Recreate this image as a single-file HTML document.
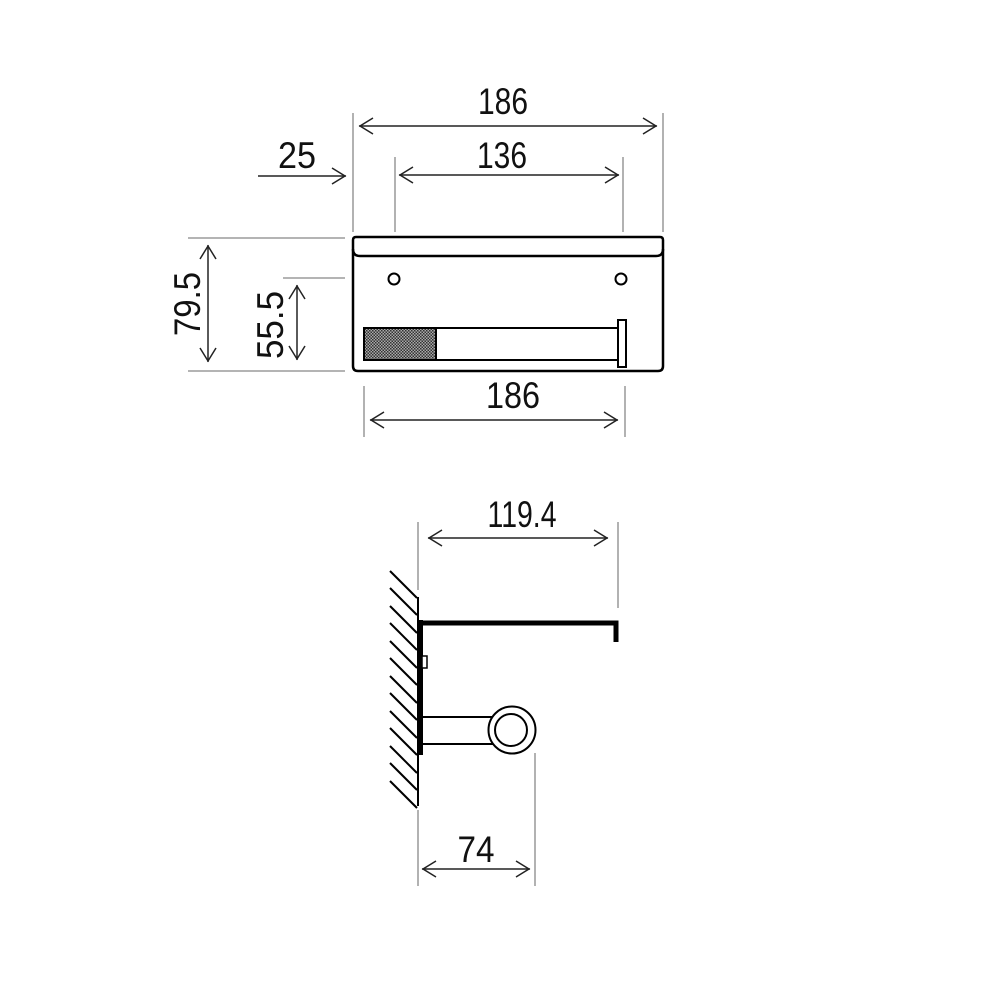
<!DOCTYPE html>
<html><head><meta charset="utf-8"><style>html,body{margin:0;padding:0;background:#fff}svg{display:block}text{font-family:"Liberation Sans",sans-serif;font-size:37px;fill:#111}</style></head>
<body>
<svg width="1000" height="1000" viewBox="0 0 1000 1000" xmlns="http://www.w3.org/2000/svg">
<defs>
<pattern id="chk" width="3" height="3" patternUnits="userSpaceOnUse"><rect width="3" height="3" fill="#aaa"/><rect width="1.5" height="1.5" fill="#333"/><rect x="1.5" y="1.5" width="1.5" height="1.5" fill="#333"/></pattern>
</defs>
<g stroke="#888" stroke-width="1.3" fill="none">
<!-- extension lines -->
<line x1="353" y1="113" x2="353" y2="232"/>
<line x1="663" y1="113" x2="663" y2="232"/>
<line x1="395" y1="157" x2="395" y2="232"/>
<line x1="623" y1="157" x2="623" y2="232"/>
<line x1="188" y1="238" x2="345" y2="238"/>
<line x1="188" y1="371" x2="345" y2="371"/>
<line x1="283" y1="278" x2="345" y2="278"/>
<line x1="364" y1="386" x2="364" y2="437"/>
<line x1="625" y1="386" x2="625" y2="437"/>
<line x1="418" y1="522" x2="418" y2="590"/>
<line x1="618" y1="522" x2="618" y2="608"/>
<line x1="418" y1="810" x2="418" y2="886"/>
<line x1="535" y1="753" x2="535" y2="886"/>
</g>
<g stroke="#222" stroke-width="1.5" fill="none">
<!-- dims -->
<line x1="359" y1="126" x2="657" y2="126"/>
<polyline points="373,118 360,126 373,134"/><polyline points="643,118 656,126 643,134"/>
<line x1="399" y1="175" x2="619" y2="175"/>
<polyline points="413,167 400,175 413,183"/><polyline points="605,167 618,175 605,183"/>
<line x1="258" y1="176" x2="346" y2="176"/>
<polyline points="332,168 345,176 332,184"/>
<line x1="208" y1="245" x2="208" y2="362"/>
<polyline points="200,259 208,246 216,259"/><polyline points="200,348 208,361 216,348"/>
<line x1="297" y1="285" x2="297" y2="360"/>
<polyline points="289,299 297,286 305,299"/><polyline points="289,346 297,359 305,346"/>
<line x1="370" y1="420" x2="618" y2="420"/>
<polyline points="384,412 371,420 384,428"/><polyline points="604,412 617,420 604,428"/>
<line x1="428" y1="538" x2="608" y2="538"/>
<polyline points="442,530 429,538 442,546"/><polyline points="594,530 607,538 594,546"/>
<line x1="422" y1="869" x2="530" y2="869"/>
<polyline points="436,861 423,869 436,877"/><polyline points="516,861 529,869 516,877"/>
</g>
<!-- top view -->
<g stroke="#000" stroke-width="2.5" fill="#fff">
<path d="M353,240 Q353,237 356,237 L660,237 Q663,237 663,240 L663,366 Q663,371 658,371 L358,371 Q353,371 353,366 Z"/>
<path d="M353,249 Q353,256 360,256 L656,256 Q663,256 663,249" fill="none"/>
<circle cx="394" cy="279" r="5.5" stroke-width="2"/>
<circle cx="621" cy="279" r="5.5" stroke-width="2"/>
<rect x="364" y="328" width="254" height="32" stroke-width="2"/>
<rect x="364" y="328" width="72" height="32" fill="url(#chk)" stroke-width="2"/>
<rect x="618" y="320" width="8" height="47" stroke-width="2"/>
</g>
<!-- side view -->
<g stroke="#000" fill="none">
<line x1="418" y1="597" x2="418" y2="806" stroke-width="2"/>
<g stroke-width="2">
<line x1="390" y1="571" x2="417" y2="598"/>
<line x1="390" y1="588" x2="417" y2="615"/>
<line x1="390" y1="606" x2="417" y2="633"/>
<line x1="390" y1="623" x2="417" y2="650"/>
<line x1="390" y1="641" x2="417" y2="668"/>
<line x1="390" y1="658" x2="417" y2="685"/>
<line x1="390" y1="676" x2="417" y2="703"/>
<line x1="390" y1="693" x2="417" y2="720"/>
<line x1="390" y1="711" x2="417" y2="738"/>
<line x1="390" y1="728" x2="417" y2="755"/>
<line x1="390" y1="746" x2="417" y2="773"/>
<line x1="390" y1="763" x2="417" y2="790"/>
<line x1="390" y1="781" x2="417" y2="808"/>
</g>
<line x1="421" y1="620" x2="421" y2="755" stroke-width="4"/>
<polyline points="421,623 616,623 616,642" stroke-width="5"/>
<rect x="422" y="656" width="5" height="12" stroke-width="1.5" fill="#fff"/>
<line x1="423" y1="717" x2="500" y2="717" stroke-width="2"/>
<line x1="423" y1="744" x2="500" y2="744" stroke-width="2"/>
<circle cx="512" cy="730" r="23.5" stroke-width="2" fill="#fff"/>
<circle cx="511" cy="730" r="16" stroke-width="2"/>
</g>
<!-- labels -->
<text x="503" y="114" text-anchor="middle" textLength="50" lengthAdjust="spacingAndGlyphs">186</text>
<text x="502" y="168" text-anchor="middle" textLength="50" lengthAdjust="spacingAndGlyphs">136</text>
<text x="297" y="168" text-anchor="middle" textLength="38" lengthAdjust="spacingAndGlyphs">25</text>
<text x="513" y="408" text-anchor="middle" textLength="54" lengthAdjust="spacingAndGlyphs">186</text>
<text x="522" y="527" text-anchor="middle" textLength="69" lengthAdjust="spacingAndGlyphs">119.4</text>
<text x="476" y="862" text-anchor="middle" textLength="37" lengthAdjust="spacingAndGlyphs">74</text>
<text transform="translate(200,304) rotate(-90)" text-anchor="middle" textLength="64" lengthAdjust="spacingAndGlyphs">79.5</text>
<text transform="translate(283,325) rotate(-90)" text-anchor="middle" textLength="68" lengthAdjust="spacingAndGlyphs">55.5</text>
</svg>
</body></html>
